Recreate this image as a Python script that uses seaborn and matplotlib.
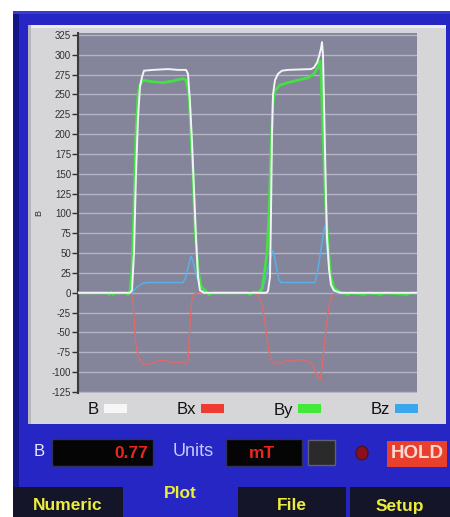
import numpy as np
import pandas as pd
import matplotlib.pyplot as plt
import seaborn as sns
from matplotlib.patches import Rectangle, Circle, Patch

sns.set_theme(style='dark')
plt.rcParams['font.family'] = ['Liberation Sans', 'DejaVu Sans']
plt.rcParams['axes.unicode_minus'] = False

# --- data (t = sample position, values in mT) ---
b_t = [0, 52, 54, 56, 57, 58, 60, 62, 64, 66, 75, 90, 100, 108, 110, 112, 114, 116, 118, 120, 122, 126,
       188, 190, 192, 193, 194, 195, 197, 200, 204, 210, 233, 236, 239, 241, 243, 244, 245, 246, 247,
       248, 249, 251, 253, 256, 262, 339]
b_v = [0, 0, 3, 50, 100, 150, 220, 260, 272, 280, 281, 282, 281, 281, 276, 240, 190, 130, 70, 20, 3, 0,
       0, 2, 20, 100, 200, 250, 268, 276, 280, 281, 282, 284, 290, 298, 308, 316, 300, 240, 180,
       120, 70, 30, 10, 3, 0, 0]

by_t = [0, 29, 31, 33, 35, 37, 48, 50, 52, 54, 56, 58, 60, 62, 65, 75, 85, 95, 105, 108, 111, 113, 115,
        117, 120, 123, 128, 131, 135, 169, 172, 176, 180, 184, 187, 189, 191, 193, 195, 197, 202, 210,
        220, 230, 236, 240, 242, 243, 245, 247, 249, 251, 253, 256, 262, 270, 273, 286, 290, 303, 307,
        329, 333, 339]
by_v = [0, 0, -2, 1, -2, 0, 0, -2, 2, 30, 110, 200, 250, 262, 268, 266, 265, 267, 270, 268, 250, 200, 150,
        80, 30, 8, 2, -2, 0, 0, -2, 1, 0, 5, 30, 50, 100, 180, 240, 255, 262, 265,
        268, 271, 276, 284, 292, 280, 200, 130, 80, 45, 20, 6, 1, -2, 0, -2, 0, -2, 0,
        -2, 0, 0]

bx_t = [0, 53, 55, 56, 57, 58, 60, 63, 66, 70, 75, 80, 85, 90, 95, 100, 105, 108, 110, 111, 112, 113,
        114, 116, 120, 175, 180, 183, 186, 189, 191, 194, 198, 203, 210, 215, 220, 225, 230, 233, 236,
        239, 242, 244, 246, 248, 250, 252, 255, 260, 339]
bx_v = [0, 0, -10, -30, -50, -65, -78, -87, -90, -90, -88, -86, -85, -86, -88, -87, -88, -90, -85, -60,
        -40, -20, -8, -2, 0, 0, -2, -10, -30, -55, -75, -87, -90, -88, -85, -86, -84, -85, -86, -88,
        -95, -105, -110, -95, -70, -45, -25, -10, -2, 0, 0]

bz_t = [0, 54, 56, 58, 61, 65, 70, 90, 105, 108, 110, 113, 115, 117, 120, 123, 127, 180, 184, 187, 190,
        193, 195, 197, 199, 201, 203, 215, 237, 240, 243, 246, 247, 249, 251, 253, 255, 258, 339]
bz_v = [0, 0, 3, 6, 9, 12, 13, 13, 13, 20, 32, 46, 40, 28, 15, 6, 0, 0, 3, 15, 30,
        45, 53, 42, 28, 16, 13, 13, 13, 30, 55, 80, 84, 55, 30, 12, 3, 0, 0]

series_names = ['B', 'Bx', 'By', 'Bz']
line_colors = ['#f4f4f8', '#e06a6a', '#44e044', '#5ab0e6']
swatch_colors = ['#f6f6f6', '#ee3a30', '#44e83a', '#3aa6ec']
y_ticks = list(range(-125, 326, 25))

W, H = 450, 517


def box(x0, y0, x1, y1):
    # pixel box (top-left origin) -> figure fraction
    return (x0 / W, 1 - y1 / H), (x1 - x0) / W, (y1 - y0) / H


def fig_rect(fig, x0, y0, x1, y1, **kw):
    xy, w, h = box(x0, y0, x1, y1)
    fig.add_artist(Rectangle(xy, w, h, transform=fig.transFigure, zorder=-1, **kw))


fig = plt.figure(figsize=(W / 100, H / 100), dpi=100)
fig.patch.set_facecolor('white')

# blue instrument panel
fig_rect(fig, 13, 11, 450, 517, facecolor='#2626c4', edgecolor='none')
fig_rect(fig, 13, 11, 19, 517, facecolor='#15158a', edgecolor='none')
fig_rect(fig, 13, 11, 450, 14, facecolor='#3a3ad0', edgecolor='none')
# gray graph panel
fig_rect(fig, 28, 25, 446, 424, facecolor='#d6d6d8', edgecolor='none')
fig_rect(fig, 28, 25, 446, 28, facecolor='#ececee', edgecolor='none')
fig_rect(fig, 28, 25, 31, 424, facecolor='#b8b8bc', edgecolor='none')

ax = fig.add_axes([78 / W, 1 - 393 / H, 339 / W, 360 / H])
ax.set_zorder(5)
ax.set_facecolor('#84849a')

curves = [(b_t, b_v), (bx_t, bx_v), (by_t, by_v), (bz_t, bz_v)]
widths = [1.4, 1.0, 2.0, 1.1]
order = [1, 3, 2, 0]
for i in order:
    t, v = curves[i]
    df = pd.DataFrame({'t': t, 'v': v})
    sns.lineplot(data=df, x='t', y='v', ax=ax, color=line_colors[i], lw=widths[i],
                 estimator=None, sort=False, zorder=3 + (i == 0))

ax.set_xlim(0, 339)
ax.set_ylim(-126.3, 327.5)
ax.set_yticks(y_ticks)
ax.set_xticks([])
ax.set_xlabel('')
ax.set_ylabel('B', fontsize=6.5, color='#303030', labelpad=6)
ax.grid(axis='y', color='#b4b4c4', lw=1)
ax.grid(axis='x', visible=False)
ax.tick_params(axis='y', labelsize=7, length=4, width=1, colors='#303030', pad=1, left=True)
for s in ['top', 'right', 'bottom']:
    ax.spines[s].set_visible(False)
ax.spines['left'].set_color('#3a3a3a')
ax.spines['left'].set_linewidth(1.5)

handles = [Patch(facecolor=c, edgecolor='none') for c in swatch_colors]
fig.legend(handles, series_names, ncol=4, markerfirst=False, loc='center left',
           bbox_to_anchor=(88 / W, 1 - 410 / H), borderaxespad=0, borderpad=0,
           frameon=False, handlelength=1.4, handleheight=0.4, handletextpad=0.3,
           columnspacing=2.95, prop={'size': 12}, labelcolor='#111111')

# readout row
fig.text(34 / W, 1 - 452 / H, 'B', color='#e8e8ff', fontsize=12, va='center')
fig_rect(fig, 52, 439, 153, 466, facecolor='#050505', edgecolor='#303060', lw=1)
fig.text(148 / W, 1 - 453 / H, '0.77', color='#e8261e', fontsize=12.5, fontweight='bold',
         ha='right', va='center')
fig.text(193 / W, 1 - 452 / H, 'Units', color='#c8c8ff', fontsize=13, ha='center', va='center')
fig_rect(fig, 226, 439, 302, 466, facecolor='#050505', edgecolor='#303060', lw=1)
fig.text(262 / W, 1 - 453 / H, 'mT', color='#e8261e', fontsize=12.5, fontweight='bold',
         ha='center', va='center')
fig_rect(fig, 308, 440, 335, 465, facecolor='#2a2a2a', edgecolor='#606070', lw=1)
fig.add_artist(Circle((362 / W, 1 - 453 / H), 6 / W, transform=fig.transFigure,
                      facecolor='#8a1020', edgecolor='#501020'))
fig_rect(fig, 387, 441, 447, 467, facecolor='#e8402c', edgecolor='none')
fig.text(417 / W, 1 - 454 / H, 'HOLD', color='#ffd8d0', fontsize=13.5, fontweight='bold',
         ha='center', va='center')

# tab bar
tabs = [('Numeric', 13, 123, True), ('Plot', 123, 238, False),
        ('File', 238, 346, True), ('Setup', 350, 450, True)]
for name, x0, x1, dark in tabs:
    if dark:
        fig_rect(fig, x0, 487, x1, 517, facecolor='#15152a', edgecolor='none')
    ty = 506 if dark else 493
    fig.text((x0 + x1) / 2 / W, 1 - ty / H, name, color='#ecec3c', fontsize=12.5,
             fontweight='bold', ha='center', va='center')

fig.savefig('out.png', dpi=100)
